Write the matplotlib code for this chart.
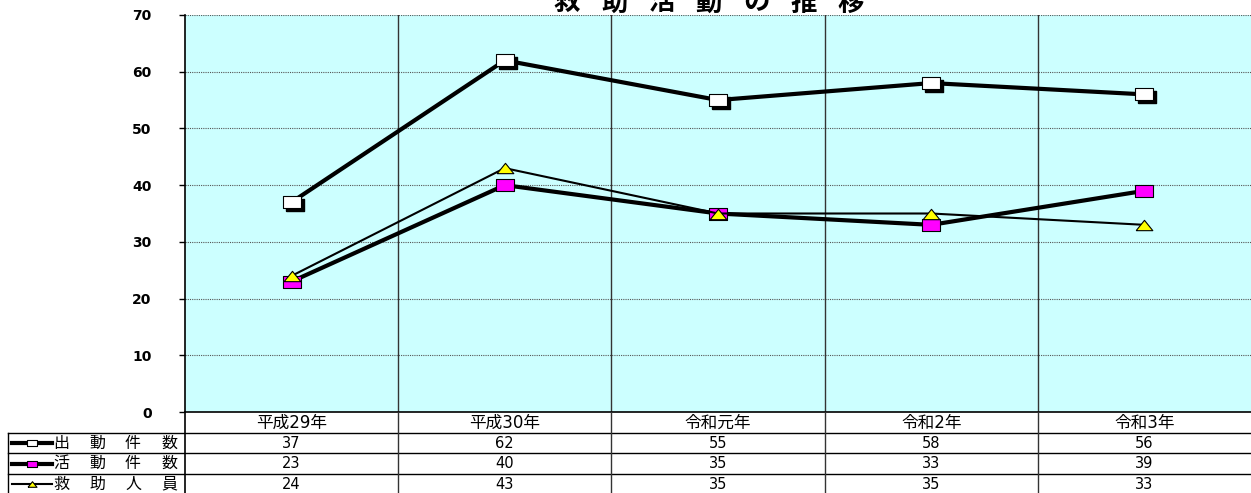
import numpy as np
import matplotlib
matplotlib.use("Agg")
import matplotlib.pyplot as plt
from matplotlib.transforms import ScaledTranslation

plt.rcParams["font.family"] = ["Noto Sans CJK JP", "DejaVu Sans"]

years = ["平成29年", "平成30年", "令和元年", "令和2年", "令和3年"]
dispatch = [37, 62, 55, 58, 56]     # 出動件数
activity = [23, 40, 35, 33, 39]     # 活動件数
rescued = [24, 43, 35, 35, 33]      # 救助人員
row_names = ["出動件数", "活動件数", "救助人員"]
title_chars = "救助活動の推移"

W, H = 1251, 493
x0, y_top, y_bot = 185, 15, 412
col_w = (W - x0) / len(years)
rh = 20.5
mixed = ["DejaVu Sans", "Noto Sans CJK JP"]

fig = plt.figure(figsize=(W / 100, H / 100), dpi=100)
ax = fig.add_axes([x0 / W, (H - y_bot) / H, (W - x0) / W, (y_bot - y_top) / H])
ax.set_facecolor("#CCFFFF")
ax.set_xlim(-0.5, len(years) - 0.5)
ax.set_ylim(0, 70)

# grid: dotted horizontals, solid category separators
for v in range(10, 71, 10):
    ax.axhline(v, color="#555555", lw=0.8, ls=(0, (1, 1)), zorder=1)
for i in range(len(years) - 1):
    ax.axvline(i + 0.5, color="#333333", lw=1.0, zorder=1)

ax.set_xticks([])
ax.set_yticks(range(0, 71, 10))
ax.tick_params(axis="y", length=4, width=1, pad=20, labelsize=10)
for lab in ax.get_yticklabels():
    lab.set_fontweight("bold")
    lab.set_family(["DejaVu Sans"])
for s in ["top", "right", "bottom"]:
    ax.spines[s].set_visible(False)
ax.spines["left"].set_linewidth(1.2)

xs = np.arange(len(years))
rect = [(-1, -0.62), (1, -0.62), (1, 0.62), (-1, 0.62), (-1, -0.62)]
tri = [(-1, -0.62), (1, -0.62), (0, 0.62), (-1, -0.62)]

# 出動件数: thick line, white boxes with drop shadow
ax.plot(xs, dispatch, color="black", lw=3, zorder=3)
shadow = ax.transData + ScaledTranslation(3 / 100, -3 / 100, fig.dpi_scale_trans)
ax.plot(xs, dispatch, ls="none", marker=rect, ms=13, mfc="black", mec="black",
        transform=shadow, zorder=4)
ax.plot(xs, dispatch, ls="none", marker=rect, ms=13, mfc="white", mec="black",
        mew=0.8, zorder=5)

# 活動件数
ax.plot(xs, activity, color="black", lw=3, marker=rect, ms=13, mfc="#FF00FF",
        mec="black", mew=0.8, zorder=6)

# 救助人員
ax.plot(xs, rescued, color="black", lw=1.5, marker=tri, ms=12, mfc="#FFFF00",
        mec="black", mew=0.8, zorder=7)

# title, spread out one character at a time
for k, ch in enumerate(title_chars):
    fig.text((567 + k * 47.3) / W, 1 - 3 / H, ch, fontsize=19, fontweight="bold",
             ha="center", va="center")

# data table below the plot, drawn in pixel coordinates
tab = fig.add_axes([0, 0, 1, 1], facecolor="none")
tab.set_xlim(0, W)
tab.set_ylim(H, 0)
tab.axis("off")

tab.plot([x0, W], [y_bot, y_bot], color="black", lw=1.2)
for r in range(1, 4):
    y = y_bot + r * rh
    tab.plot([8, W], [y, y], color="black", lw=1.0)
tab.plot([8, 8], [y_bot + rh, H], color="black", lw=1.0)
tab.plot([x0, x0], [y_bot, H], color="black", lw=1.2)
for i in range(1, len(years)):
    xv = x0 + i * col_w
    tab.plot([xv, xv], [y_bot, H], color="#333333", lw=1.0)

for i, yr in enumerate(years):
    tab.text(x0 + (i + 0.5) * col_w, y_bot + rh / 2 + 0.5, yr, fontsize=12,
             family=mixed, ha="center", va="center")

series = [dispatch, activity, rescued]
styles = [dict(lw=3, marker=rect, mfc="white"),
          dict(lw=3, marker=rect, mfc="#FF00FF"),
          dict(lw=1.5, marker=tri, mfc="#FFFF00")]
for r, (name, vals, st) in enumerate(zip(row_names, series, styles)):
    yc = y_bot + (r + 1.5) * rh + 0.5
    tab.plot([12, 52], [yc, yc], color="black", lw=st["lw"])
    tab.plot([32], [yc], ls="none", marker=st["marker"], ms=6.5, mfc=st["mfc"],
             mec="black", mew=0.8)
    for k, ch in enumerate(name):
        tab.text(61 + k * 36, yc, ch, fontsize=11.5, ha="center", va="center")
    for i, v in enumerate(vals):
        tab.text(x0 + (i + 0.5) * col_w, yc, str(v), fontsize=10.5,
                 family=["DejaVu Sans"], ha="center", va="center")

fig.savefig("out.png", dpi=100)
